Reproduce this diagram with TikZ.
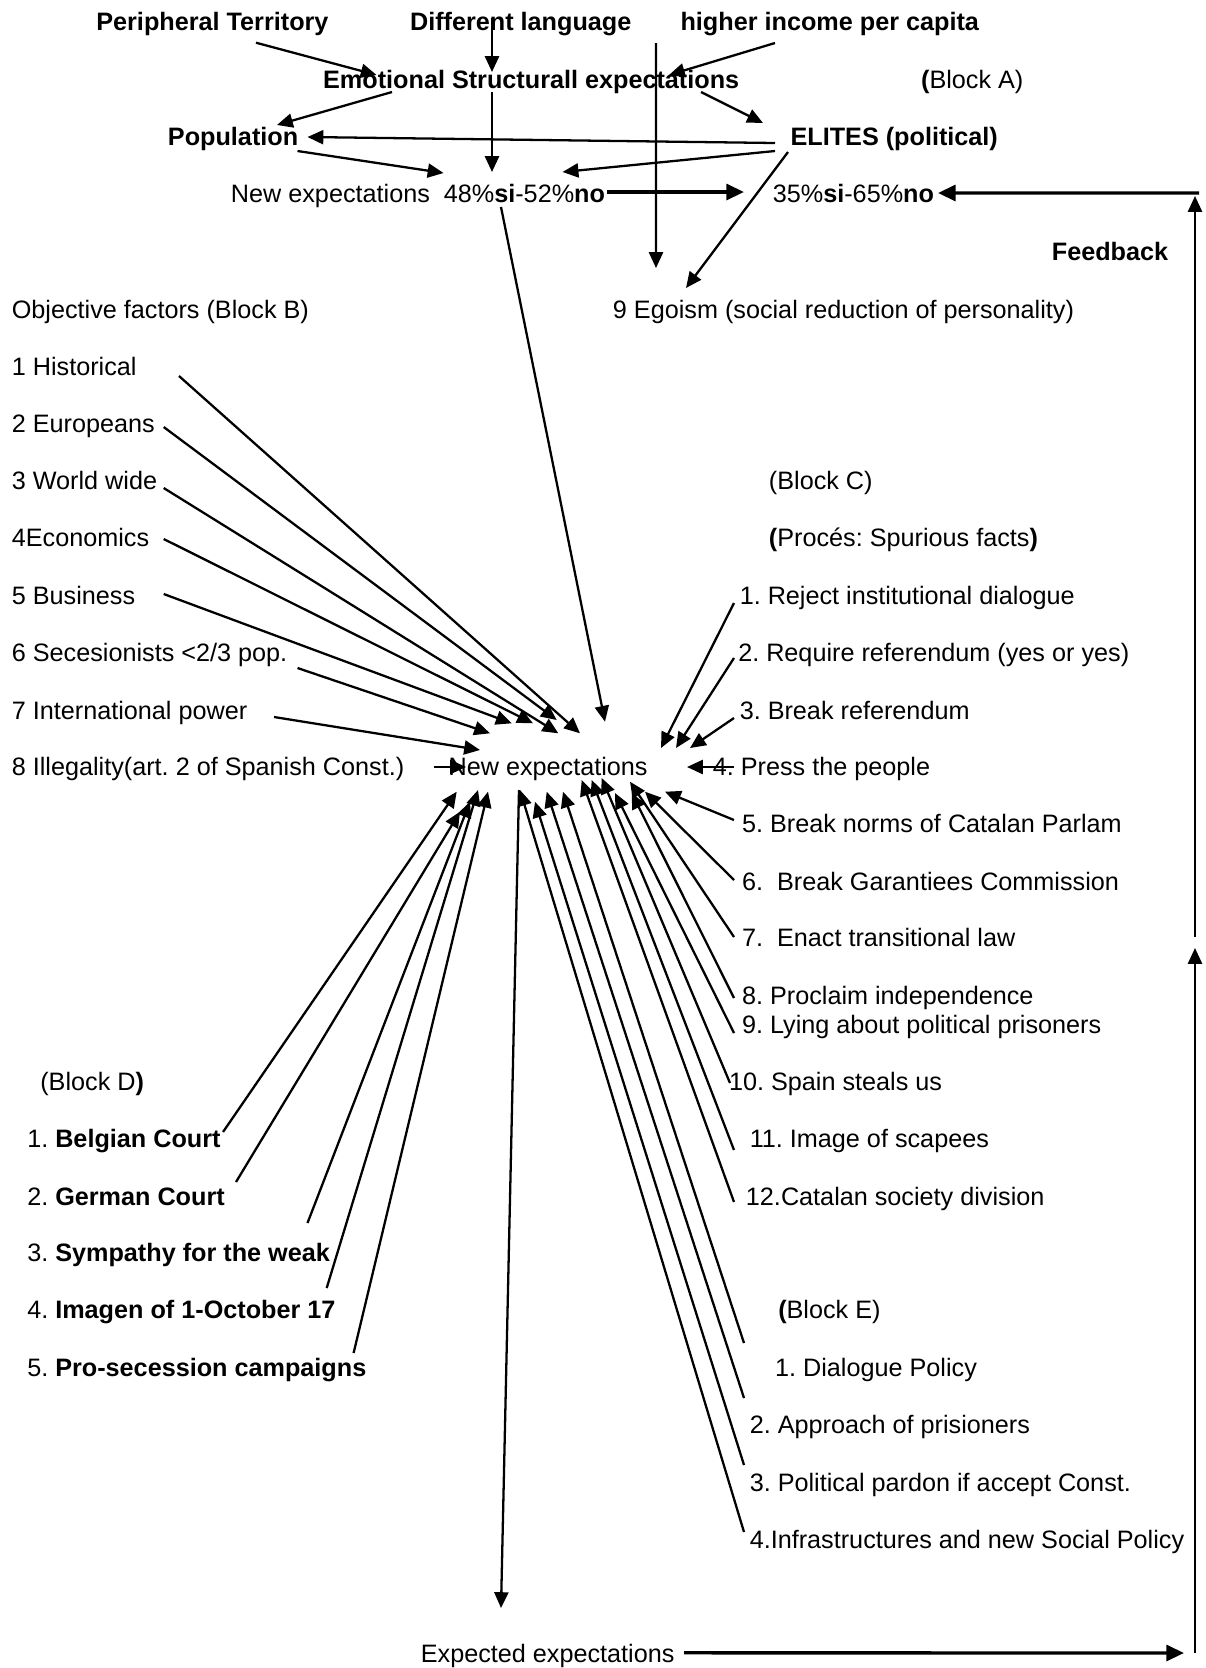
\documentclass[tikz,border=0pt]{standalone}
\usepackage{fontspec}
\setmainfont{Liberation Sans}
\usepackage{tikz}
\usetikzlibrary{shapes,arrows.meta,positioning}
\tikzstyle{lbl} = [anchor=mid west, inner sep=0pt, yshift=-0.1cm, font=\fontsize{14.35}{17}\selectfont]
\tikzstyle{blbl} = [lbl, font=\fontsize{14.35}{17}\selectfont\bfseries]
\tikzstyle{arr} = [draw, line width=1.3pt, -{Triangle[length=9pt,width=8pt]}]
\tikzstyle{harr} = [draw, line width=1.9pt, -{Triangle[length=10pt,width=9pt]}]

\begin{document}
\frenchspacing
\begin{tikzpicture}[x=0.02cm, y=-0.02cm]
			\useasboundingbox (0,0) rectangle (1205,1668);
			% block A
			\node [blbl] (periph) at (96,21.3) {Peripheral Territory};
			\node [blbl] (difflang) at (409.7,21.3) {Different language};
			\node [blbl] (income) at (680.2,21.3) {higher income per capita};
			\node [blbl] (emot) at (322.8,78.7) {Emotional Structurall expectations};
			\node [lbl] (blockA) at (920.8,78.7) {\textbf{(}Block A)};
			\node [blbl] (popul) at (167.6,136.1) {Population};
			\node [blbl] (elites) at (790.2,136.1) {ELITES (political)};
			\node [lbl] (newexp) at (230.6,192.5) {New expectations};
			\node [lbl] (pct) at (443.5,192.5) {48\%\textbf{si}-52\%\textbf{no}};
			\node [lbl] (res35) at (772.5,192.5) {35\%\textbf{si}-65\%\textbf{no}};
			\node [blbl] (feedback) at (1051.5,251) {Feedback};
			\node [lbl] (egoism) at (612.6,308.4) {9 Egoism (social reduction of personality)};
			\coordinate (incfoot) at (656,43);
			
			% block B
			\node [lbl] (blockB) at (11.5,308.4) {Objective factors (Block B)};
			\node [lbl] (b1) at (11.5,365.9) {1 Historical};
			\node [lbl] (b2) at (11.5,423.3) {2 Europeans};
			\node [lbl] (b3) at (11.5,479.7) {3 World wide};
			\node [lbl] (b4) at (11.5,537.1) {4Economics};
			\node [lbl] (b5) at (11.5,594.6) {5 Business};
			\node [lbl] (b6) at (11.5,652) {6 Secesionists <2/3 pop.};
			\node [lbl] (b7) at (11.5,709.4) {7 International power};
			\node [lbl] (b8) at (11.5,765.8) {8 Illegality(art. 2 of Spanish Const.)};
			\node [lbl] (hub) at (448.3,765.8) {New expectations};
			
			% block C
			\node [lbl] (blockC) at (768.6,479.7) {(Block C)};
			\node [lbl] (proces) at (768.6,537.1) {\textbf{(}Procés: Spurious facts\textbf{)}};
			\node [lbl] (c1) at (739.4,594.6) {1. Reject institutional dialogue};
			\node [lbl] (c2) at (737.9,652) {2. Require referendum (yes or yes)};
			\node [lbl] (c3) at (739.4,709.4) {3. Break referendum};
			\node [lbl] (c4) at (712.5,765.8) {4. Press the people};
			\node [lbl] (c5) at (741.7,823.2) {5. Break norms of Catalan Parlam};
			\node [lbl] (c6) at (741.7,880.7) {6.\ \ Break Garantiees Commission};
			\node [lbl] (c7) at (741.7,937) {7.\ \ Enact transitional law};
			\node [lbl] (c8) at (741.7,994.5) {8. Proclaim independence};
			\node [lbl] (c9) at (741.7,1024.2) {9. Lying about political prisoners};
			\node [lbl] (c10) at (728.7,1080.6) {10. Spain steals us};
			\node [lbl] (c11) at (749.4,1138) {11. Image of scapees};
			\node [lbl] (c12) at (745.6,1195.5) {12.Catalan society division};
			
			% block D
			\node [lbl] (blockD) at (40,1080.6) {(Block D\textbf{)}};
			\node [lbl] (d1) at (26.9,1138) {1. \textbf{Belgian Court}};
			\node [lbl] (d2) at (26.9,1195.5) {2. \textbf{German Court}};
			\node [lbl] (d3) at (26.9,1251.9) {3. \textbf{Sympathy for the weak}};
			\node [lbl] (d4) at (26.9,1309.3) {4. \textbf{Imagen of 1-October 17}};
			\node [lbl] (d5) at (26.9,1366.7) {5. \textbf{Pro-secession campaigns}};
			
			% block E
			\node [lbl] (blockE) at (777.9,1309.3) {\textbf{(}Block E)};
			\node [lbl] (e1) at (774.8,1366.7) {1. Dialogue Policy};
			\node [lbl] (e2) at (749.4,1424.2) {2. Approach of prisioners};
			\node [lbl] (e3) at (749.4,1481.6) {3. Political pardon if accept Const.};
			\node [lbl] (e4) at (749.4,1539) {4.Infrastructures and new Social Policy};
			\node [lbl] (expected) at (420.5,1652.8) {Expected expectations};
			
			\coordinate (fbbot) at (1195,1653);
			\coordinate (fbmid) at (1195,948);
			\coordinate (fbgap) at (1195,937);
			\coordinate (fbcorner) at (1195,196);
			\coordinate (fbtop) at (1199,193);
			
			\path [arr] ([shift={(160,16.4)}]periph.mid west) -- ([shift={(53.8,-8.7)}]emot.mid west);
			\path [arr] ([shift={(82.3,-8.3)}]difflang.mid west) -- ([shift={(169.2,-11.7)}]emot.mid west);
			\path [arr] ([shift={(169.2,8.3)}]emot.mid west) -- ([shift={(48.5,-25.5)}]pct.mid west);
			\path [arr] ([shift={(94.8,16.7)}]income.mid west) -- ([shift={(346.2,-8.7)}]emot.mid west);
			\path [arr] (incfoot) -- ([shift={(43.4,-45.4)}]egoism.mid west);
			\path [arr] ([shift={(69.2,8.3)}]emot.mid west) -- ([shift={(109.4,-16.1)}]popul.mid west);
			\path [arr] ([shift={(378.2,8.3)}]emot.mid west) -- ([shift={(-27.2,-18.1)}]elites.mid west);
			\path [arr] ([shift={(-15.2,1.9)}]elites.mid west) -- ([shift={(139.9,-4.1)}]popul.mid west);
			\path [arr] ([shift={(129.9,9.9)}]popul.mid west) -- ([shift={(0,-24.5)}]pct.mid west);
			\path [arr] ([shift={(-15.2,9.9)}]elites.mid west) -- ([shift={(119.1,-25.5)}]pct.mid west);
			\path [arr] ([shift={(-2.2,10.9)}]elites.mid west) -- ([shift={(73.4,-25.4)}]egoism.mid west);
			\path [harr] ([shift={(163.5,-5.5)}]pct.mid west) -- ([shift={(-28.5,-5.5)}]res35.mid west);
			\path [arr] ([shift={(57.5,9.5)}]pct.mid west) -- ([shift={(156.7,-49.1)}]hub.mid west);
			
			\path [arr] ([shift={(167.5,5.1)}]b1.mid west) -- ([shift={(131.7,-37.5)}]hub.mid west);
			\path [arr] ([shift={(152.2,-1.3)}]b2.mid west) -- ([shift={(108.4,-50.8)}]hub.mid west);
			\path [arr] ([shift={(152.2,3.3)}]b3.mid west) -- ([shift={(110,-37.5)}]hub.mid west);
			\path [arr] ([shift={(152.2,-3.1)}]b4.mid west) -- ([shift={(84.7,-47.5)}]hub.mid west);
			\path [arr] ([shift={(152.2,-5.6)}]b5.mid west) -- ([shift={(63.4,-47.5)}]hub.mid west);
			\path [arr] ([shift={(286,11)}]b6.mid west) -- ([shift={(41.7,-37.5)}]hub.mid west);
			\path [arr] ([shift={(262.5,2.6)}]b7.mid west) -- ([shift={(31.7,-20.8)}]hub.mid west);
			\path [arr] ([shift={(422.5,-3.8)}]b8.mid west) -- ([shift={(17.7,-3.8)}]hub.mid west);
			
			\path [arr] ([shift={(-5.4,3.4)}]c1.mid west) -- ([shift={(212.7,-22.8)}]hub.mid west);
			\path [arr] ([shift={(-3.9,1)}]c2.mid west) -- ([shift={(227.7,-22.8)}]hub.mid west);
			\path [arr] ([shift={(-5.4,3.6)}]c3.mid west) -- ([shift={(241.7,-22.8)}]hub.mid west);
			\path [arr] ([shift={(21.5,-3.8)}]c4.mid west) -- ([shift={(238.7,-3.8)}]hub.mid west);
			\path [arr] ([shift={(-7.7,-8.2)}]c5.mid west) -- ([shift={(216.7,20.9)}]hub.mid west);
			\path [arr] ([shift={(-7.7,-5.7)}]c6.mid west) -- ([shift={(196.7,20.9)}]hub.mid west);
			\path [arr] ([shift={(-7.7,-5)}]c7.mid west) -- ([shift={(181.7,10.9)}]hub.mid west);
			\path [arr] ([shift={(-7.7,-1.5)}]c8.mid west) -- ([shift={(183.4,22.2)}]hub.mid west);
			\path [arr] ([shift={(-7.7,3.8)}]c9.mid west) -- ([shift={(166.7,22.2)}]hub.mid west);
			\path [arr] ([shift={(1.3,-2.6)}]c10.mid west) -- ([shift={(153.4,7.2)}]hub.mid west);
			\path [arr] ([shift={(-15.4,7)}]c11.mid west) -- ([shift={(143.4,9.2)}]hub.mid west);
			\path [arr] ([shift={(-11.6,1.5)}]c12.mid west) -- ([shift={(133.4,9.2)}]hub.mid west);
			
			\path [arr] ([shift={(196.1,-11)}]d1.mid west) -- ([shift={(8.4,20.9)}]hub.mid west);
			\path [arr] ([shift={(209.1,-18.5)}]d2.mid west) -- ([shift={(11.7,40.9)}]hub.mid west);
			\path [arr] ([shift={(280.6,-33.9)}]d3.mid west) -- ([shift={(21.7,30.9)}]hub.mid west);
			\path [arr] ([shift={(299.8,-26.3)}]d4.mid west) -- ([shift={(29.7,19.2)}]hub.mid west);
			\path [arr] ([shift={(326.7,-18.7)}]d5.mid west) -- ([shift={(39.7,20.9)}]hub.mid west);
			
			\path [arr] ([shift={(-30.8,-28.7)}]e1.mid west) -- ([shift={(114.7,20.9)}]hub.mid west);
			\path [arr] ([shift={(-5.4,-31.2)}]e2.mid west) -- ([shift={(98.4,20.9)}]hub.mid west);
			\path [arr] ([shift={(-5.4,-21.6)}]e3.mid west) -- ([shift={(86.7,30.9)}]hub.mid west);
			\path [arr] ([shift={(-5.4,-12)}]e4.mid west) -- ([shift={(71.7,19.2)}]hub.mid west);
			
			% feedback loop
			\path [arr] ([shift={(70.7,19.2)}]hub.mid west) -- ([shift={(80.5,-49.8)}]expected.mid west);
			\path [harr] ([shift={(263.5,-5)}]expected.mid west) -- ([shift={(-11,0)}]fbbot);
			\path [arr] (fbbot) -- (fbmid);
			\path [arr] (fbgap) -- (fbcorner);
			\path [harr] (fbtop) -- ([shift={(165.5,-4.5)}]res35.mid west);
		\end{tikzpicture}
\end{document}
